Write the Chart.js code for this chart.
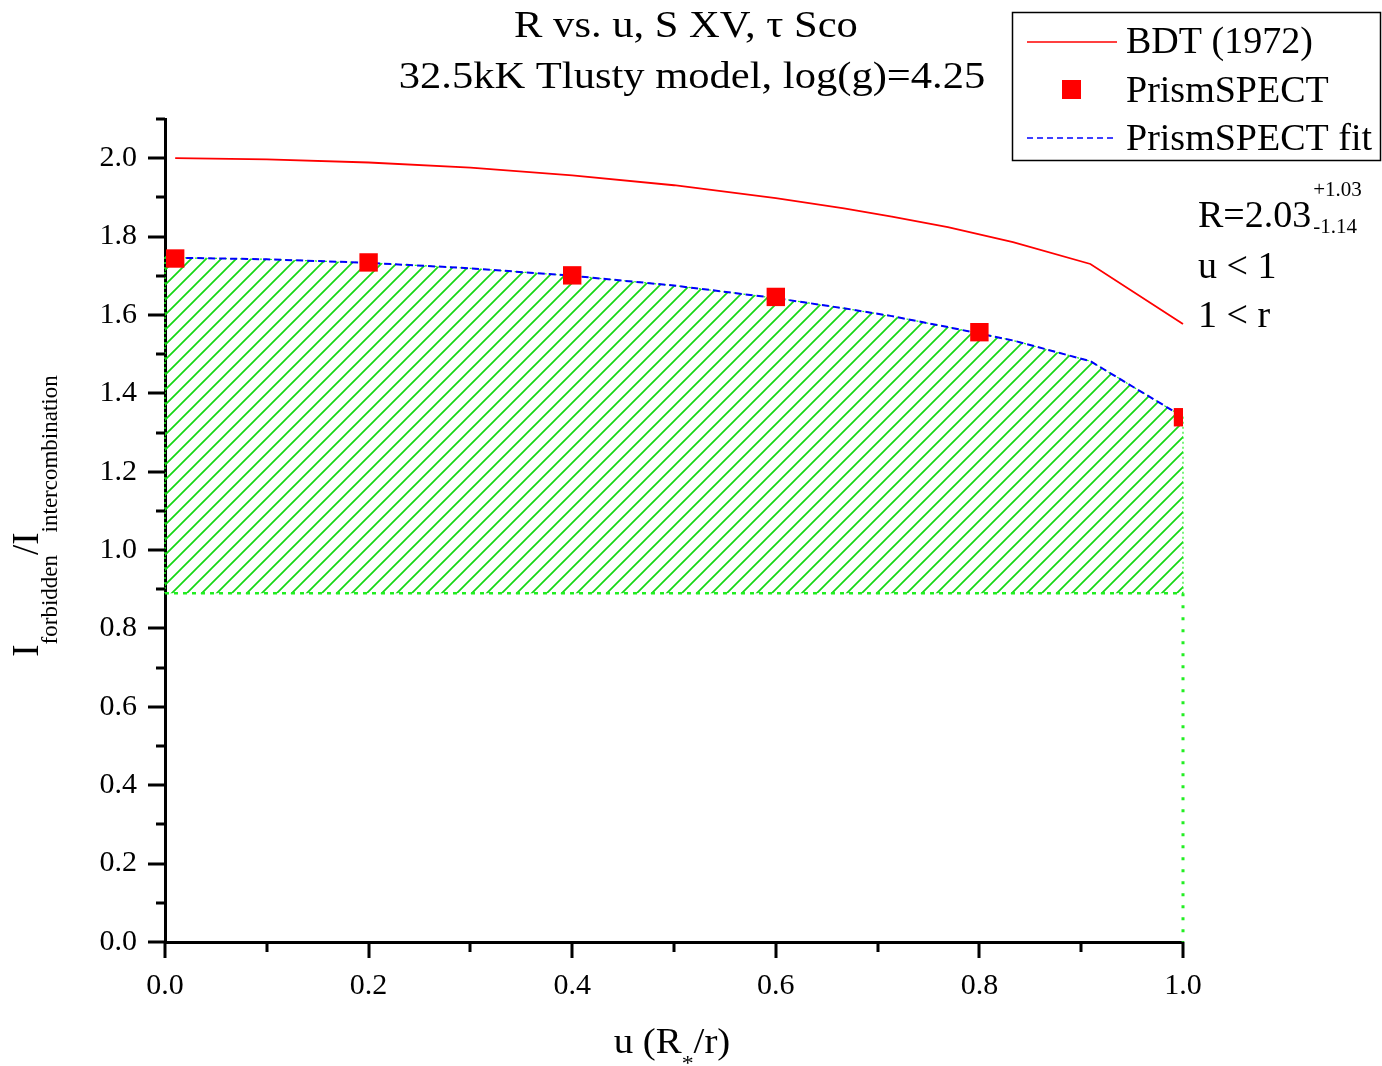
<!DOCTYPE html>
<html><head><meta charset="utf-8">
<script src="https://cdn.jsdelivr.net/npm/chart.js@4/dist/chart.umd.min.js"></script>
<style>html,body{margin:0;padding:0;background:#fff;overflow:hidden}canvas{display:block}</style>
</head><body>
<canvas id="c" width="1382" height="1066"></canvas>
<script>
// ---------------- data ----------------
const titleLines = ['R vs. u, S XV, \u03C4 Sco', '32.5kK Tlusty model, log(g)=4.25'];
const legendLabels = ['BDT (1972)', 'PrismSPECT', 'PrismSPECT fit'];

const bdtU = [0.01, 0.1, 0.2, 0.3, 0.4, 0.5, 0.6, 0.667, 0.714, 0.769, 0.833, 0.909, 1.0];
const bdtR = [2.000, 1.997, 1.989, 1.976, 1.956, 1.931, 1.898, 1.872, 1.851, 1.824, 1.786, 1.730, 1.577];

const prismU = [0.01, 0.2, 0.4, 0.6, 0.8, 1.0];
const prismR = [1.744, 1.734, 1.701, 1.646, 1.556, 1.339];

const fitU = [0.01, 0.1, 0.2, 0.3, 0.4, 0.5, 0.6, 0.667, 0.714, 0.769, 0.833, 0.909, 1.0];
const fitR = [1.746, 1.742, 1.733, 1.719, 1.700, 1.675, 1.643, 1.617, 1.597, 1.569, 1.535, 1.482, 1.340];

// allowed region (hatched): upper edge follows the fit, lower edge = R - err
const regionU = [0.0, 0.01, 0.1, 0.2, 0.3, 0.4, 0.5, 0.6, 0.667, 0.714, 0.769, 0.833, 0.909, 1.0];
const regionTop = [1.748, 1.746, 1.742, 1.733, 1.719, 1.700, 1.675, 1.643, 1.617, 1.597, 1.569, 1.535, 1.482, 1.340];
const measuredR = 2.03;
const errPlus = 1.03;
const errMinus = 1.14;
const regionLow = 0.89;
const uMin = 0.0, uMax = 1.0;
const rMin = 0.0, rMax = 2.1;

const xMajorTicks = [0.0, 0.2, 0.4, 0.6, 0.8, 1.0];
const xMinorTicks = [0.1, 0.3, 0.5, 0.7, 0.9];
const yMajorTicks = [0.0, 0.2, 0.4, 0.6, 0.8, 1.0, 1.2, 1.4, 1.6, 1.8, 2.0];
const yMinorTicks = [0.1, 0.3, 0.5, 0.7, 0.9, 1.1, 1.3, 1.5, 1.7, 1.9, 2.1];

// ---------------- styles ----------------
const FONT = "'Liberation Serif', 'Times New Roman', serif";
Chart.defaults.font.family = FONT;
Chart.defaults.color = '#000';

function makeHatch() {
  const c = document.createElement('canvas');
  c.width = 15; c.height = 15;
  const g = c.getContext('2d');
  g.strokeStyle = '#14d814';
  g.lineWidth = 1.7;
  g.beginPath();
  g.moveTo(-2, 17); g.lineTo(17, -2);
  g.moveTo(-2, 2); g.lineTo(2, -2);
  g.moveTo(13, 17); g.lineTo(17, 13);
  g.stroke();
  return g.createPattern(c, 'repeat');
}
const hatch = makeHatch();
const GREEN = '#22ee22';

const pts = (xs, ys) => xs.map((v, i) => ({x: v, y: ys[i]}));

function drawRich(ctx, parts, cx, cy, sx) {
  let total = 0;
  parts.forEach(p => { ctx.font = p.s + 'px ' + FONT; p.w = ctx.measureText(p.t).width; total += p.w; });
  ctx.save();
  ctx.translate(cx, cy);
  ctx.scale(sx || 1, 1);
  let x = -total / 2;
  ctx.textAlign = 'left';
  ctx.textBaseline = 'alphabetic';
  parts.forEach(p => { ctx.font = p.s + 'px ' + FONT; ctx.fillText(p.t, x, p.dy || 0); x += p.w; });
  ctx.restore();
}

const decorPlugin = {
  id: 'decor',
  afterDraw(chart) {
    const ctx = chart.ctx;
    const xs = chart.scales.x, ys = chart.scales.y;
    const area = chart.chartArea;
    ctx.save();
    // ticks
    ctx.strokeStyle = '#000';
    ctx.lineWidth = 3;
    ctx.beginPath();
    xMajorTicks.forEach(v => { const p = Math.round(xs.getPixelForValue(v)); ctx.moveTo(p, area.bottom); ctx.lineTo(p, area.bottom + 16); });
    xMinorTicks.forEach(v => { const p = Math.round(xs.getPixelForValue(v)); ctx.moveTo(p, area.bottom); ctx.lineTo(p, area.bottom + 10); });
    yMajorTicks.forEach(v => { const p = Math.round(ys.getPixelForValue(v)); ctx.moveTo(area.left, p); ctx.lineTo(area.left - 17, p); });
    yMinorTicks.forEach(v => { const p = Math.round(ys.getPixelForValue(v)); ctx.moveTo(area.left, p); ctx.lineTo(area.left - 9, p); });
    ctx.stroke();

    ctx.fillStyle = '#000';
    // title
    ctx.textAlign = 'center';
    ctx.textBaseline = 'alphabetic';
    [[titleLines[0], 686, 37], [titleLines[1], 692, 88]].forEach(([t, x, y]) => {
      ctx.save(); ctx.translate(x, y); ctx.scale(1.15, 1);
      ctx.font = '37px ' + FONT; ctx.fillText(t, 0, 0); ctx.restore();
    });

    // legend
    ctx.lineWidth = 1.5;
    ctx.strokeStyle = '#000';
    ctx.strokeRect(1012.5, 12.5, 368, 148);
    ctx.textAlign = 'left';
    ctx.font = '38px ' + FONT;
    ctx.strokeStyle = '#ff0000'; ctx.lineWidth = 1.5;
    ctx.beginPath(); ctx.moveTo(1027, 42); ctx.lineTo(1117, 42); ctx.stroke();
    ctx.fillText(legendLabels[0], 1126, 53);
    ctx.fillStyle = '#ff0000';
    ctx.fillRect(1062, 80, 19, 19);
    ctx.fillStyle = '#000';
    ctx.fillText(legendLabels[1], 1126, 102);
    ctx.strokeStyle = '#0000ff';
    ctx.setLineDash([6, 4]);
    ctx.beginPath(); ctx.moveTo(1027, 138); ctx.lineTo(1117, 138); ctx.stroke();
    ctx.setLineDash([]);
    ctx.fillText(legendLabels[2], 1126, 150);

    // annotation
    ctx.font = '38px ' + FONT;
    const main = 'R=' + measuredR.toFixed(2);
    ctx.fillText(main, 1198, 227);
    const w = ctx.measureText(main).width;
    ctx.font = '21px ' + FONT;
    ctx.fillText('+' + errPlus.toFixed(2), 1198 + w + 2, 196);
    ctx.fillText('-' + errMinus.toFixed(2), 1198 + w + 2, 233);
    ctx.font = '38px ' + FONT;
    ctx.fillText('u < 1', 1198, 278);
    ctx.fillText('1 < r', 1198, 327);

    // x axis title
    drawRich(ctx, [{t: 'u (R', s: 36}, {t: '*', s: 22, dy: 17}, {t: '/r)', s: 36}], 672, 1053, 1.08);

    // y axis title
    ctx.save();
    ctx.translate(38, 516);
    ctx.rotate(-Math.PI / 2);
    drawRich(ctx, [{t: 'I', s: 37}, {t: 'forbidden', s: 23, dy: 19}, {t: '/I', s: 37}, {t: 'intercombination', s: 23, dy: 19}], 0, 0, 1);
    ctx.restore();
    ctx.restore();
  }
};

const lineBase = {showLine: true, pointRadius: 0, pointHoverRadius: 0, tension: 0};

new Chart(document.getElementById('c'), {
  type: 'scatter',
  data: {
    datasets: [
      Object.assign({}, lineBase, {
        label: 'region', data: pts(regionU, regionTop),
        borderColor: GREEN, borderWidth: 1.2, borderDash: [2, 3],
        fill: {value: regionLow}, backgroundColor: hatch, order: 10, clip: false
      }),
      Object.assign({}, lineBase, {
        label: 'regionLow', data: [{x: uMin, y: regionLow}, {x: uMax, y: regionLow}],
        borderColor: GREEN, borderWidth: 2.5, borderDash: [4, 5], order: 9, clip: false
      }),
      Object.assign({}, lineBase, {
        label: 'edgeRightLow', data: [{x: uMax, y: regionLow}, {x: uMax, y: rMin}],
        borderColor: GREEN, borderWidth: 3, borderDash: [3, 9], order: 9, clip: false
      }),
      Object.assign({}, lineBase, {
        label: 'edgeRightHigh', data: [{x: uMax, y: regionTop[regionTop.length - 1]}, {x: uMax, y: regionLow}],
        borderColor: GREEN, borderWidth: 1.2, borderDash: [2, 3], order: 9, clip: false
      }),
      Object.assign({}, lineBase, {
        label: 'edgeLeft', data: [{x: uMin, y: regionTop[0]}, {x: uMin, y: regionLow}],
        borderColor: GREEN, borderWidth: 1.5, borderDash: [2, 3], order: 9, clip: false
      }),
      Object.assign({}, lineBase, {
        label: legendLabels[2], data: pts(fitU, fitR),
        borderColor: '#0000ff', borderWidth: 2, borderDash: [7, 4], order: 3, clip: false
      }),
      Object.assign({}, lineBase, {
        label: legendLabels[0], data: pts(bdtU, bdtR),
        borderColor: '#ff0000', borderWidth: 1.8, order: 2, clip: false
      }),
      {
        label: legendLabels[1], data: pts(prismU, prismR), showLine: false,
        pointStyle: 'rect', pointRadius: 13, pointHoverRadius: 13,
        pointBackgroundColor: '#ff0000', pointBorderWidth: 0, pointBorderColor: '#ff0000',
        order: 1, clip: 0
      }
    ]
  },
  options: {
    responsive: false,
    animation: false,
    devicePixelRatio: 1,
    events: [],
    layout: {padding: {top: 119, right: 199, bottom: 0, left: 0}},
    plugins: {legend: {display: false}, tooltip: {enabled: false}, title: {display: false}},
    scales: {
      x: {
        type: 'linear', min: uMin, max: uMax,
        grid: {display: false, drawTicks: false},
        border: {display: true, color: '#000', width: 3},
        ticks: {font: {size: 30}, color: '#000', padding: 26, autoSkip: false, maxRotation: 0,
                callback: v => Number(v).toFixed(1)},
        afterBuildTicks: s => { s.ticks = xMajorTicks.map(v => ({value: v})); },
        afterFit: s => { s.height = 124; }
      },
      y: {
        type: 'linear', min: rMin, max: rMax,
        grid: {display: false, drawTicks: false},
        border: {display: true, color: '#000', width: 3},
        ticks: {font: {size: 30}, color: '#000', padding: 28, autoSkip: false,
                callback: v => Number(v).toFixed(1)},
        afterBuildTicks: s => { s.ticks = yMajorTicks.map(v => ({value: v})); },
        afterFit: s => { s.width = 165; }
      }
    }
  },
  plugins: [decorPlugin]
});
</script>
</body></html>
